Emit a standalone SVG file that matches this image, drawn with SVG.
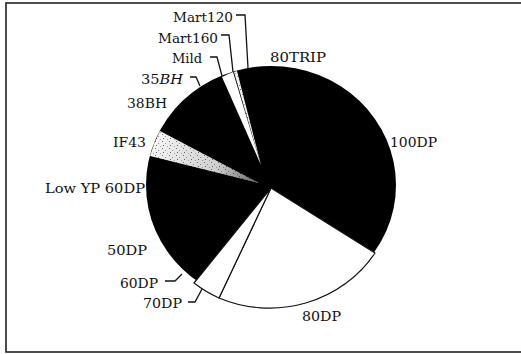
<svg xmlns="http://www.w3.org/2000/svg" width="521" height="354" viewBox="0 0 521 354">
<style>
text{font-family:"DejaVu Serif","Liberation Serif",serif;font-size:13px;fill:#111}
.ld{fill:none;stroke:#111;stroke-width:1.3}
.w{fill:#fff;stroke:#111;stroke-width:1.2;stroke-linejoin:round}
</style>
<defs>
<pattern id="speck" width="7" height="7" patternUnits="userSpaceOnUse">
<rect width="7" height="7" fill="#f4f4f4"/>
<rect x="1" y="1" width="1" height="1" fill="#777"/>
<rect x="4" y="3" width="1" height="1" fill="#999"/>
<rect x="2" y="5" width="1" height="1" fill="#666"/>
<rect x="6" y="6" width="1" height="1" fill="#aaa"/>
</pattern>
<linearGradient id="dark" gradientUnits="userSpaceOnUse" x1="155" y1="143" x2="259" y2="183">
<stop offset="0" stop-color="#000" stop-opacity="0"/>
<stop offset="0.6" stop-color="#000" stop-opacity="0.15"/>
<stop offset="1" stop-color="#000" stop-opacity="0.6"/>
</linearGradient>
</defs>
<rect id="frame" x="6" y="3" width="540" height="349" fill="none" stroke="#222" stroke-width="1.6"/>
<g id="pie">
<ellipse id="base" cx="271" cy="185" rx="125" ry="119" fill="#000"/>
<g id="mild"><path d="M261,165 L222,77 A125 119 0 0 1 233,72 Z" fill="#fff"/></g>
<g id="mart160"><path d="M261,165 L234,72 A125 119 0 0 1 237,71 Z" fill="url(#speck)"/></g>
<g id="if43">
<path d="M259,183 L160,131 A125 119 0 0 0 150,156 Z" fill="url(#speck)"/>
<path d="M259,183 L160,131 A125 119 0 0 0 150,156 Z" fill="url(#dark)"/>
</g>
<g id="dp80"><path class="w" d="M271,188 L375,253 A125 119 0 0 1 219,298 Z"/></g>
<g id="dp70"><path class="w" d="M271,188 L219,298 A125 119 0 0 1 194,283 Z"/></g>
</g>
<g id="connectors">
<path class="ld" d="M236,15 L245,15 L248,68"/>
<path class="ld" d="M221,35 L229,35 L233,72"/>
<path class="ld" d="M210,57 L217,57 L222,76"/>
<path class="ld" d="M190,77 L196,77 L200,86"/>
<path class="ld" d="M165,281 L175,281 L182,274"/>
<path class="ld" d="M188,302 L195,302 L202,289"/>
</g>
<g id="labels">
<text x="173" y="22" textLength="60" lengthAdjust="spacingAndGlyphs">Mart120</text>
<text x="158" y="43" textLength="60" lengthAdjust="spacingAndGlyphs">Mart160</text>
<text x="172" y="63" textLength="30" lengthAdjust="spacingAndGlyphs">Mild</text>
<text x="270" y="62" textLength="56" lengthAdjust="spacingAndGlyphs">80TRIP</text>
<text x="141" y="84" textLength="42" lengthAdjust="spacingAndGlyphs">35<tspan font-style="italic">BH</tspan></text>
<text x="127" y="108" textLength="40" lengthAdjust="spacingAndGlyphs">38BH</text>
<text x="113" y="147" textLength="33" lengthAdjust="spacingAndGlyphs">IF43</text>
<text x="45" y="193" textLength="100" lengthAdjust="spacingAndGlyphs">Low YP 60DP</text>
<text x="390" y="147" textLength="47" lengthAdjust="spacingAndGlyphs">100DP</text>
<text x="107" y="255" textLength="40" lengthAdjust="spacingAndGlyphs">50DP</text>
<text x="120" y="288" textLength="38" lengthAdjust="spacingAndGlyphs">60DP</text>
<text x="143" y="308" textLength="39" lengthAdjust="spacingAndGlyphs">70DP</text>
<text x="302" y="321" textLength="39" lengthAdjust="spacingAndGlyphs">80DP</text>
</g>
</svg>
